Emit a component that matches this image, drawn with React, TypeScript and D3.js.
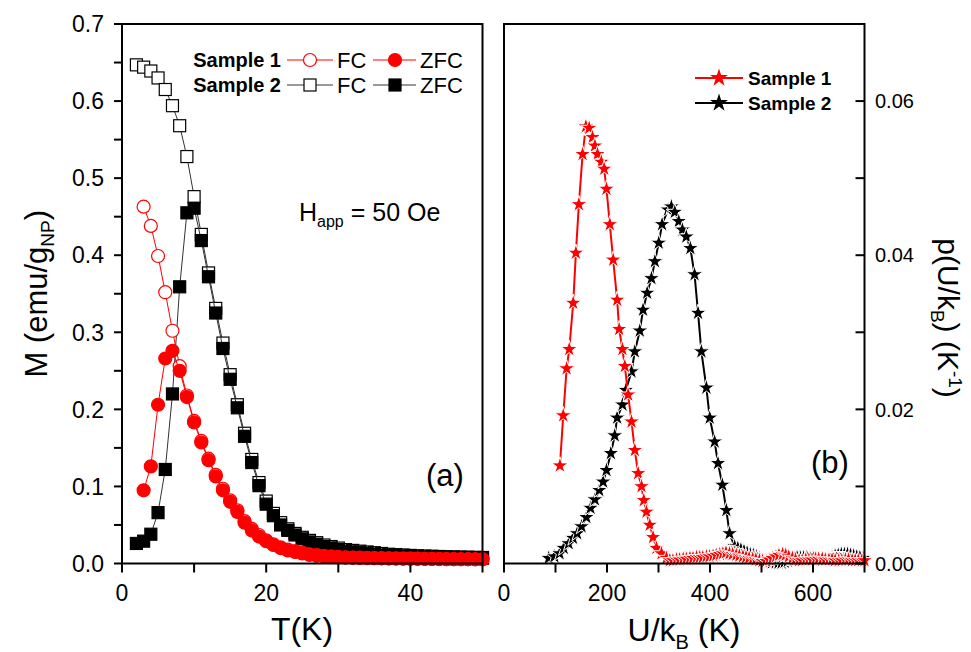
import * as React from "react";
import { scaleLinear, line, symbol, symbolStar, range } from "d3";

// ---- left panel data: M vs T ----
const s2T = range(2, 51);
const s2FC = [
  0.647, 0.644, 0.639, 0.63, 0.615, 0.594, 0.568, 0.528, 0.476, 0.427, 0.377,
  0.331, 0.286, 0.245, 0.206, 0.169, 0.135, 0.105, 0.081, 0.065, 0.053, 0.045,
  0.039, 0.034, 0.03, 0.027, 0.024, 0.022, 0.02, 0.018, 0.017, 0.016, 0.015,
  0.014, 0.013, 0.012, 0.0115, 0.011, 0.0105, 0.01, 0.0097, 0.0094, 0.0091,
  0.0088, 0.0086, 0.0084, 0.0082, 0.008, 0.0078,
];
const s2ZFC = [
  0.026, 0.029, 0.038, 0.066, 0.122, 0.22, 0.359, 0.455, 0.461, 0.419, 0.372,
  0.325, 0.279, 0.239, 0.202, 0.165, 0.131, 0.101, 0.077, 0.062, 0.05, 0.043,
  0.037, 0.032, 0.028, 0.025, 0.022, 0.02, 0.018, 0.016, 0.015, 0.014, 0.013,
  0.012, 0.011, 0.0105, 0.01, 0.0095, 0.009, 0.0087, 0.0084, 0.0081, 0.0079,
  0.0077, 0.0075, 0.0073, 0.0071, 0.007, 0.0068,
];
const s1T = range(3, 51);
const s1FC = [
  0.463, 0.438, 0.399, 0.352, 0.302, 0.256, 0.218, 0.185, 0.159, 0.136, 0.115,
  0.097, 0.082, 0.069, 0.055, 0.045, 0.037, 0.03, 0.025, 0.021, 0.018, 0.016,
  0.014, 0.012, 0.011, 0.01, 0.0092, 0.0085, 0.008, 0.0077, 0.0075, 0.0073,
  0.0071, 0.0069, 0.0067, 0.0066, 0.0064, 0.0063, 0.0062, 0.0061, 0.006,
  0.0059, 0.0058, 0.0057, 0.0056, 0.0056, 0.0055, 0.0055,
];
const s1ZFC = [
  0.095, 0.126, 0.206, 0.266, 0.276, 0.25, 0.216, 0.183, 0.157, 0.134, 0.113,
  0.095, 0.08, 0.067, 0.053, 0.043, 0.035, 0.029, 0.024, 0.02, 0.017, 0.015,
  0.013, 0.011, 0.01, 0.009, 0.0085, 0.008, 0.0077, 0.0075, 0.0073, 0.0071,
  0.0069, 0.0067, 0.0066, 0.0064, 0.0063, 0.0062, 0.0061, 0.006, 0.0059,
  0.0058, 0.0057, 0.0056, 0.0055, 0.0055, 0.0054, 0.0054,
];

// ---- right panel data: rho vs U/kB ----
const dist1U = [
  108.6, 115, 121.6, 126.7, 134.4, 139.6, 145.4, 152.6, 159, 165.4, 172, 176.5,
  181.6, 189, 194.5, 199, 205.5, 212, 219.7, 223.6, 230, 234.6, 241, 247.6, 254,
  260.5, 267, 271.5, 276.6, 283, 289.5, 296, 305.8, 315.5, 322, 328, 335, 341,
  348, 354, 361, 367, 374, 380, 386, 393, 399, 406, 412, 419, 425, 431, 438, 444,
  451, 457, 464, 470, 476, 483, 489, 496, 502, 509, 515, 521, 528, 534, 541, 547,
  553, 560, 566, 573, 579, 586, 592, 598, 605, 611, 618, 624, 631, 637, 643, 650,
  656, 663, 669, 676, 682, 688, 695, 700,
];
const dist1P = [
  0.0127, 0.0192, 0.0253, 0.0278, 0.0338, 0.0403, 0.0466, 0.0531, 0.0567,
  0.0565, 0.0553, 0.0542, 0.0531, 0.0521, 0.0512, 0.0486, 0.044, 0.0394, 0.0342,
  0.0304, 0.0278, 0.0256, 0.0219, 0.0184, 0.0147, 0.0117, 0.01, 0.0082, 0.0067,
  0.005, 0.0034, 0.002, 0.0013, 0.0007, 0.0004, 0.0004, 0.0005, 0.0005, 0.0006,
  0.0006, 0.0007, 0.0007, 0.0008, 0.0008, 0.0008, 0.0009, 0.0009, 0.001, 0.0011,
  0.0012, 0.0013, 0.0014, 0.0013, 0.0012, 0.0011, 0.001, 0.0009, 0.0008, 0.0007,
  0.0006, 0.0005, 0.0004, 0.0003, 0.0003, 0.0005, 0.0007, 0.0009, 0.0011,
  0.0012, 0.0011, 0.0009, 0.0007, 0.0005, 0.0004, 0.0004, 0.0005, 0.0005,
  0.0005, 0.0006, 0.0006, 0.0006, 0.0005, 0.0005, 0.0005, 0.0004, 0.0004,
  0.0004, 0.0005, 0.0005, 0.0004, 0.0004, 0.0004, 0.0004, 0.0004,
];
const dist2U = [
  86.8, 97.8, 108, 116, 125.6, 134, 142, 150.6, 160, 168, 176.5, 185, 192.5,
  199, 207.5, 215, 219.7, 230, 236.6, 247.6, 254, 263.7, 270, 278, 286.3, 293,
  300.5, 307, 318.6, 325, 331.6, 339.3, 346.4, 354, 361.9, 370, 376.8, 383.3,
  393, 399.5, 409, 415.6, 424, 431.8, 438, 447.8, 454, 460, 466, 472, 478, 484,
  490, 496, 502, 508, 514, 520, 527, 533, 539, 545, 551, 557, 563, 569, 575, 581,
  588, 594, 600, 606, 612, 618, 624, 630, 637, 643, 649, 655, 661, 667, 673, 679,
  685, 691, 697,
];
const dist2P = [
  0.0007, 0.0009, 0.0013, 0.002, 0.0026, 0.0033, 0.0039, 0.0048, 0.006, 0.0072,
  0.0083, 0.0095, 0.0106, 0.0121, 0.0143, 0.0166, 0.0189, 0.0206, 0.0225,
  0.0249, 0.0275, 0.0302, 0.0329, 0.0351, 0.037, 0.0392, 0.0416, 0.044, 0.0459,
  0.0463, 0.0456, 0.0444, 0.0433, 0.0424, 0.0409, 0.0375, 0.0325, 0.0275,
  0.0228, 0.0189, 0.0158, 0.013, 0.0102, 0.0069, 0.0039, 0.0022, 0.002, 0.0018,
  0.0016, 0.0014, 0.0012, 0.0011, 0.0009, 0.0007, 0.0005, 0.0003, 0.0002,
  0.0001, 0.0001, 0.0001, 0.0001, 0.0002, 0.0003, 0.0005, 0.0007, 0.0008,
  0.0008, 0.0008, 0.0008, 0.0007, 0.0007, 0.0006, 0.0005, 0.0004, 0.0005,
  0.0006, 0.0008, 0.001, 0.0011, 0.0012, 0.0012, 0.0012, 0.0011, 0.001, 0.0009,
  0.0008, 0.0007,
];

const tTicks = [0, 10, 20, 30, 40, 50];
const tLabels = [0, 20, 40];
const mTicks = [0, 0.05, 0.1, 0.15, 0.2, 0.25, 0.3, 0.35, 0.4, 0.45, 0.5, 0.55, 0.6, 0.65, 0.7];
const mLabels = [0, 0.1, 0.2, 0.3, 0.4, 0.5, 0.6, 0.7];
const uTicks = [0, 100, 200, 300, 400, 500, 600, 700];
const uLabels = [0, 200, 400, 600];
const pTicks = [0, 0.01, 0.02, 0.03, 0.04, 0.05, 0.06, 0.07];
const pLabels = [0, 0.02, 0.04, 0.06];

const FONT = "'Liberation Sans', Arial, sans-serif";
const RED = "#ff0000";

const top = 24;
const bottom = 563.5;

const xL = scaleLinear().domain([0, 50]).range([122, 482.5]);
const yL = scaleLinear().domain([0, 0.7]).range([bottom, top]);
const xR = scaleLinear().domain([0, 700]).range([504, 864.5]);
const yR = scaleLinear().domain([0, 0.07]).range([bottom, top]);

const starPath = symbol(symbolStar).size(88)() as string;
const starLegend = symbol(symbolStar).size(100)() as string;

function Square({ x, y, filled }: { x: number; y: number; filled: boolean }) {
  return (
    <rect
      x={x - 6}
      y={y - 6}
      width={12}
      height={12}
      fill={filled ? "#000" : "#fff"}
      stroke="#000"
      strokeWidth={1.2}
    />
  );
}

function Circle({ x, y, filled }: { x: number; y: number; filled: boolean }) {
  return (
    <circle
      cx={x}
      cy={y}
      r={6.5}
      fill={filled ? RED : "#fff"}
      stroke={RED}
      strokeWidth={1.2}
    />
  );
}

function Star({ x, y, color }: { x: number; y: number; color: string }) {
  return (
    <path
      d={starPath}
      transform={`translate(${x},${y})`}
      fill={color}
      stroke="#fff"
      strokeWidth={1}
    />
  );
}

export default function App() {
  const lineL = line<[number, number]>()
    .x((d) => xL(d[0]))
    .y((d) => yL(d[1]));
  const lineR = line<[number, number]>()
    .x((d) => xR(d[0]))
    .y((d) => yR(d[1]));

  const pts = (xs: number[], ys: number[]) =>
    xs.map((x, i) => [x, ys[i]] as [number, number]);

  const s2fc = pts(s2T, s2FC);
  const s2zfc = pts(s2T, s2ZFC);
  const s1fc = pts(s1T, s1FC);
  const s1zfc = pts(s1T, s1ZFC);
  const d1 = pts(dist1U, dist1P);
  const d2 = pts(dist2U, dist2P);

  return (
    <svg
      width={971}
      height={652}
      style={{ position: "absolute", left: 0, top: 0, background: "#fff" }}
      fontFamily={FONT}
    >
      <rect width={971} height={652} fill="#fff" />

      {/* ---------- left panel ---------- */}
      <g>
        <path d={lineL(s2fc) as string} fill="none" stroke="#333" strokeWidth={1} />
        {s2fc.map((d, i) => (
          <Square key={"a" + i} x={xL(d[0])} y={yL(d[1])} filled={false} />
        ))}
        <path d={lineL(s2zfc) as string} fill="none" stroke="#333" strokeWidth={1} />
        {s2zfc.map((d, i) => (
          <Square key={"b" + i} x={xL(d[0])} y={yL(d[1])} filled={true} />
        ))}
        <path d={lineL(s1fc) as string} fill="none" stroke={RED} strokeWidth={1} />
        {s1fc.map((d, i) => (
          <Circle key={"c" + i} x={xL(d[0])} y={yL(d[1])} filled={false} />
        ))}
        <path d={lineL(s1zfc) as string} fill="none" stroke={RED} strokeWidth={1} />
        {s1zfc.map((d, i) => (
          <Circle key={"d" + i} x={xL(d[0])} y={yL(d[1])} filled={true} />
        ))}

        <rect
          x={xL(0)}
          y={top}
          width={xL(50) - xL(0)}
          height={bottom - top}
          fill="none"
          stroke="#000"
          strokeWidth={2}
        />
        {tTicks.map((t) => (
          <line key={t} x1={xL(t)} x2={xL(t)} y1={bottom} y2={bottom + 9} stroke="#000" strokeWidth={2} />
        ))}
        {tLabels.map((t) => (
          <text key={t} x={xL(t)} y={601} fontSize={23} textAnchor="middle">
            {t}
          </text>
        ))}
        {mTicks.map((m) => (
          <line key={m} x1={xL(0) - 8} x2={xL(0)} y1={yL(m)} y2={yL(m)} stroke="#000" strokeWidth={2} />
        ))}
        {mLabels.map((m) => (
          <text key={m} x={104} y={yL(m)} dy="0.36em" fontSize={23} textAnchor="end">
            {m.toFixed(1)}
          </text>
        ))}
        <text x={302} y={640} fontSize={32} textAnchor="middle">
          T(K)
        </text>
        <text
          transform={`translate(47,${(top + bottom) / 2}) rotate(-90)`}
          fontSize={31}
          textAnchor="middle"
        >
          M (emu/g
          <tspan fontSize={19} dy={7}>NP</tspan>
          <tspan dy={-7}>)</tspan>
        </text>

        {/* legend */}
        <g fontSize={22}>
          <text x={281} y={60} dy="0.35em" fontSize={20} fontWeight="bold" textAnchor="end">
            Sample 1
          </text>
          <line x1={287} x2={333} y1={60} y2={60} stroke={RED} strokeWidth={1} />
          <Circle x={310} y={60} filled={false} />
          <text x={337} y={60} dy="0.36em">FC</text>
          <line x1={373} x2={416} y1={60} y2={60} stroke={RED} strokeWidth={1} />
          <Circle x={395} y={60} filled={true} />
          <text x={420} y={60} dy="0.36em">ZFC</text>

          <text x={281} y={85} dy="0.35em" fontSize={20} fontWeight="bold" textAnchor="end">
            Sample 2
          </text>
          <line x1={287} x2={333} y1={85} y2={85} stroke="#333" strokeWidth={1} />
          <Square x={310} y={85} filled={false} />
          <text x={337} y={85} dy="0.36em">FC</text>
          <line x1={373} x2={416} y1={85} y2={85} stroke="#333" strokeWidth={1} />
          <Square x={395} y={85} filled={true} />
          <text x={420} y={85} dy="0.36em">ZFC</text>
        </g>

        <text x={299} y={221} fontSize={25}>
          H<tspan fontSize={16} dy={6}>app</tspan>
          <tspan dy={-6}> = 50 Oe</tspan>
        </text>
        <text x={426} y={486} fontSize={31}>
          (a)
        </text>
      </g>

      {/* ---------- right panel ---------- */}
      <g>
        <path d={lineR(d2) as string} fill="none" stroke="#000" strokeWidth={2} />
        {d2.map((d, i) => (
          <Star key={"e" + i} x={xR(d[0])} y={yR(d[1])} color="#000" />
        ))}
        <path d={lineR(d1) as string} fill="none" stroke={RED} strokeWidth={2} />
        {d1.map((d, i) => (
          <Star key={"f" + i} x={xR(d[0])} y={yR(d[1])} color={RED} />
        ))}

        <rect
          x={xR(0)}
          y={top}
          width={xR(700) - xR(0)}
          height={bottom - top}
          fill="none"
          stroke="#000"
          strokeWidth={2}
        />
        {uTicks.map((u) => (
          <line key={u} x1={xR(u)} x2={xR(u)} y1={bottom} y2={bottom + 9} stroke="#000" strokeWidth={2} />
        ))}
        {uLabels.map((u) => (
          <text key={u} x={xR(u)} y={601} fontSize={23} textAnchor="middle">
            {u}
          </text>
        ))}
        {pTicks.map((p) => (
          <line key={p} x1={xR(700) - 9} x2={xR(700)} y1={yR(p)} y2={yR(p)} stroke="#000" strokeWidth={2} />
        ))}
        {pLabels.map((p) => (
          <text key={p} x={875} y={yR(p)} dy="0.36em" fontSize={20}>
            {p.toFixed(2)}
          </text>
        ))}
        <text x={684} y={641} fontSize={32} textAnchor="middle">
          U/k<tspan fontSize={20} dy={8}>B</tspan>
          <tspan dy={-8}> (K)</tspan>
        </text>
        <text
          transform={`translate(938,318) rotate(90)`}
          fontSize={30}
          textAnchor="middle"
        >
          p(U/k<tspan fontSize={19} dy={7}>B</tspan>
          <tspan dy={-7}>) (K</tspan>
          <tspan fontSize={19} dy={-11}>-1</tspan>
          <tspan dy={11}>)</tspan>
        </text>

        {/* legend */}
        <line x1={695} x2={743} y1={78} y2={78} stroke={RED} strokeWidth={2} />
        <path d={starLegend} transform="translate(719,78)" fill={RED} />
        <text x={748} y={78} dy="0.36em" fontSize={19} fontWeight="bold">
          Sample 1
        </text>
        <line x1={695} x2={743} y1={103} y2={103} stroke="#000" strokeWidth={2} />
        <path d={starLegend} transform="translate(719,103)" fill="#000" />
        <text x={748} y={103} dy="0.36em" fontSize={19} fontWeight="bold">
          Sample 2
        </text>

        <text x={811} y={473} fontSize={31}>
          (b)
        </text>
      </g>
    </svg>
  );
}
